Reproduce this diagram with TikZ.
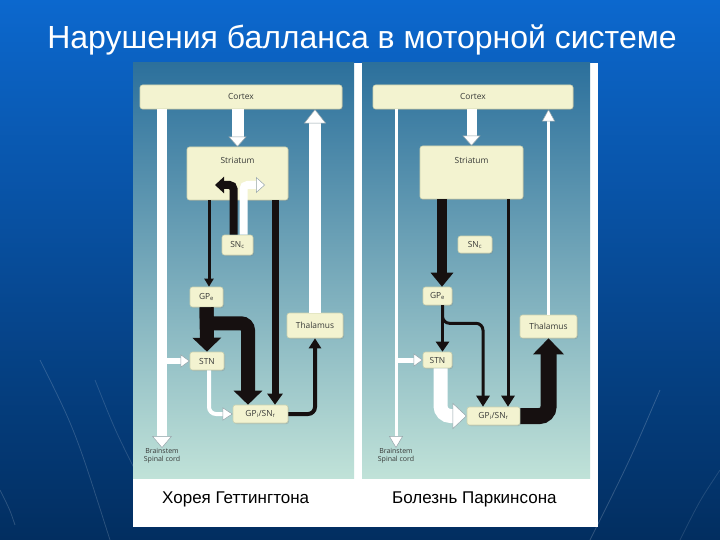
\documentclass[tikz,border=0pt]{standalone}
\usepackage{fontspec}
\setmainfont{Liberation Sans}
\newfontfamily\boxfont{Open Sans}
\usetikzlibrary{arrows.meta,shadows}
\definecolor{slidetop}{RGB}{12,104,206}
\definecolor{slidemid}{RGB}{6,76,156}
\definecolor{slidebot}{RGB}{2,46,96}
\definecolor{paneltop}{RGB}{44,112,156}
\definecolor{panelbot}{RGB}{192,226,216}
\definecolor{boxfill}{RGB}{243,243,208}
\definecolor{boxedge}{RGB}{205,210,175}
\definecolor{ink}{RGB}{22,16,16}
\definecolor{labelgray}{RGB}{55,57,55}
\definecolor{tipedge}{RGB}{150,165,170}
\tikzset{
  box/.style={draw=boxedge, line width=0.6pt, fill=boxfill, rounded corners=2.5pt,
    inner sep=0pt, font=\boxfont\fontsize{8.4}{9}\selectfont, text=labelgray,
    drop shadow={shadow xshift=1pt, shadow yshift=-1pt, opacity=0.3}},
  tinytext/.style={font=\boxfont\fontsize{7}{8}\selectfont, text=labelgray, align=center, inner sep=0pt},
  blkarrow/.style n args={3}{draw=ink, line width=#1, rounded corners=7pt,
    -{Triangle[length=#2 0, width=#3 0, color=ink, fill=ink]}},
  whtarrow/.style n args={3}{draw=white, line width=#1, rounded corners=7pt,
    -{Triangle[length=#2 0, width=#3 0, color=tipedge, fill=white, line width=0.5pt 0]}},
  caption/.style={font=\fontsize{17}{20}\selectfont, text=black, anchor=base west, inner sep=0pt}
}
\begin{document}
\begin{tikzpicture}[x=1pt,y=-1pt]
\useasboundingbox (0,0) rectangle (720,540);
% slide background
\shade[top color=slidetop, middle color=slidemid, bottom color=slidebot] (0,0) rectangle (720,540);
\draw[white, opacity=0.16, line width=0.8pt] (40,360) .. controls (75,430) .. (110,540);
\draw[white, opacity=0.14, line width=0.8pt] (95,380) .. controls (115,430) .. (135,470);
\draw[white, opacity=0.16, line width=0.8pt] (0,490) .. controls (10,510) .. (15,525);
\draw[white, opacity=0.18, line width=0.8pt] (660,390) .. controls (630,460) .. (590,540);
\draw[white, opacity=0.12, line width=0.8pt] (720,470) .. controls (700,500) .. (680,540);
% title
\node[text=white, font=\fontsize{32}{38}\selectfont, anchor=base, inner sep=0pt] (title) at (362,49) {Нарушения балланса в моторной системе};
% picture frame
\fill[white] (133,63) rectangle (598,527);
\shade[top color=paneltop, bottom color=panelbot] (133,63) rectangle (354,478);
\shade[top color=paneltop, bottom color=panelbot] (362,63) rectangle (590,478);

% ---------- left panel: Huntington ----------
\node[box, minimum width=202pt, minimum height=24pt] (cortexL) at (241,97) {Cortex};
\node[box, minimum width=101pt, minimum height=53pt] (striatumL) at (237.5,173.5) {};
\node[tinytext, font=\boxfont\fontsize{8.4}{9}\selectfont, anchor=north] (striatumLt) at (237.5,157) {Striatum};
\node[box, minimum width=31pt, minimum height=20pt] (snL) at (237.5,245) {SN\textsubscript{c}};
\node[box, minimum width=33pt, minimum height=20pt] (gpeL) at (206.5,297) {GP\textsubscript{e}};
\node[box, minimum width=34pt, minimum height=18pt] (stnL) at (207,361) {STN};
\node[box, minimum width=55pt, minimum height=18pt] (gpiL) at (260.5,414) {GP\textsubscript{i}/SN\textsubscript{r}};
\node[box, minimum width=56pt, minimum height=25pt] (thalL) at (315,325.5) {Thalamus};
\node[tinytext, anchor=north] (bsL) at (162,448) {Brainstem\\Spinal cord};
\coordinate (sbL) at (215,185);
\coordinate (swL) at (265,185);

\draw[whtarrow={10pt}{12pt}{20pt}] (cortexL.south -| bsL.north) -- (bsL.north);
\draw[whtarrow={12pt}{10pt}{18pt}] (striatumL.north |- cortexL.south) -- (striatumL.north);
\draw[whtarrow={12pt}{14pt}{22pt}] (thalL.north) -- (thalL.north |- cortexL.south);
\draw[blkarrow={8pt}{9pt}{16pt}, rounded corners=4pt] ([xshift=-4pt]snL.north) |- (sbL);
\draw[whtarrow={8pt}{9pt}{16pt}, rounded corners=4pt] ([xshift=6pt]snL.north) |- (swL);
\draw[blkarrow={3pt}{8pt}{9pt}] ([xshift=2.5pt]gpeL.north |- striatumL.south) -- ([xshift=2.5pt]gpeL.north);
\draw[blkarrow={7pt}{11pt}{15pt}] ([xshift=14.5pt]gpiL.north |- striatumL.south) -- ([xshift=14.5pt]gpiL.north);
\draw[blkarrow={14pt}{14pt}{28pt}] (gpeL.south) -- (stnL.north);
\draw[blkarrow={14pt}{14pt}{28pt}] (gpeL.south) -- ++(0,16) -| ([xshift=-12.5pt]gpiL.north);
\draw[whtarrow={6pt}{9pt}{13pt}] (stnL.west -| bsL.north) -- (stnL.west);
\draw[whtarrow={4pt}{10pt}{13pt}] ([xshift=2pt]stnL.south) |- (gpiL.west);
\draw[blkarrow={4pt}{10pt}{12pt}] (gpiL.east) -| (thalL.south);

% ---------- right panel: Parkinson ----------
\node[box, minimum width=200pt, minimum height=24pt] (cortexR) at (473,97) {Cortex};
\node[box, minimum width=103pt, minimum height=53pt] (striatumR) at (471.5,172.5) {};
\node[tinytext, font=\boxfont\fontsize{8.4}{9}\selectfont, anchor=north] (striatumRt) at (471.5,157) {Striatum};
\node[box, minimum width=34pt, minimum height=17pt] (snR) at (475,244.5) {SN\textsubscript{c}};
\node[box, minimum width=29pt, minimum height=18pt] (gpeR) at (437.5,296) {GP\textsubscript{e}};
\node[box, minimum width=29pt, minimum height=16pt] (stnR) at (437.5,360) {STN};
\node[box, minimum width=53pt, minimum height=18pt] (gpiR) at (493.5,416) {GP\textsubscript{i}/SN\textsubscript{r}};
\node[box, minimum width=57pt, minimum height=23pt] (thalR) at (548.5,326.5) {Thalamus};
\node[tinytext, anchor=north] (bsR) at (396,448) {Brainstem\\Spinal cord};

\draw[whtarrow={3pt}{12pt}{14pt}] (cortexR.south -| bsR.north) -- (bsR.north);
\draw[whtarrow={10pt}{10pt}{18pt}] (striatumR.north |- cortexR.south) -- (striatumR.north);
\draw[whtarrow={3pt}{12pt}{13pt}] (thalR.north) -- (thalR.north |- cortexR.south);
\draw[blkarrow={10pt}{14pt}{22pt}] ([xshift=4.5pt]gpeR.north |- striatumR.south) -- ([xshift=4.5pt]gpeR.north);
\draw[blkarrow={3pt}{11pt}{13pt}] ([xshift=14.5pt]gpiR.north |- striatumR.south) -- ([xshift=14.5pt]gpiR.north);
\draw[blkarrow={3pt}{10pt}{13pt}] ([xshift=5pt]gpeR.south) -- ([xshift=5pt]stnR.north);
\draw[blkarrow={3pt}{11pt}{13pt}] ([xshift=5pt]gpeR.south) -- ++(0,18) -| ([xshift=-10.5pt]gpiR.north);
\draw[whtarrow={5pt}{9pt}{13pt}] (stnR.west -| bsR.north) -- (stnR.west);
\draw[whtarrow={14pt}{14pt}{26pt}, rounded corners=10pt] ([xshift=3pt]stnR.south) |- (gpiR.west);
\draw[blkarrow={16pt}{16pt}{30pt}, rounded corners=9pt] (gpiR.east) -| (thalR.south);

% captions
\node[caption] (capL) at (162,503) {Хорея Геттингтона};
\node[caption] (capR) at (392,503) {Болезнь Паркинсона};
\end{tikzpicture}
\end{document}
